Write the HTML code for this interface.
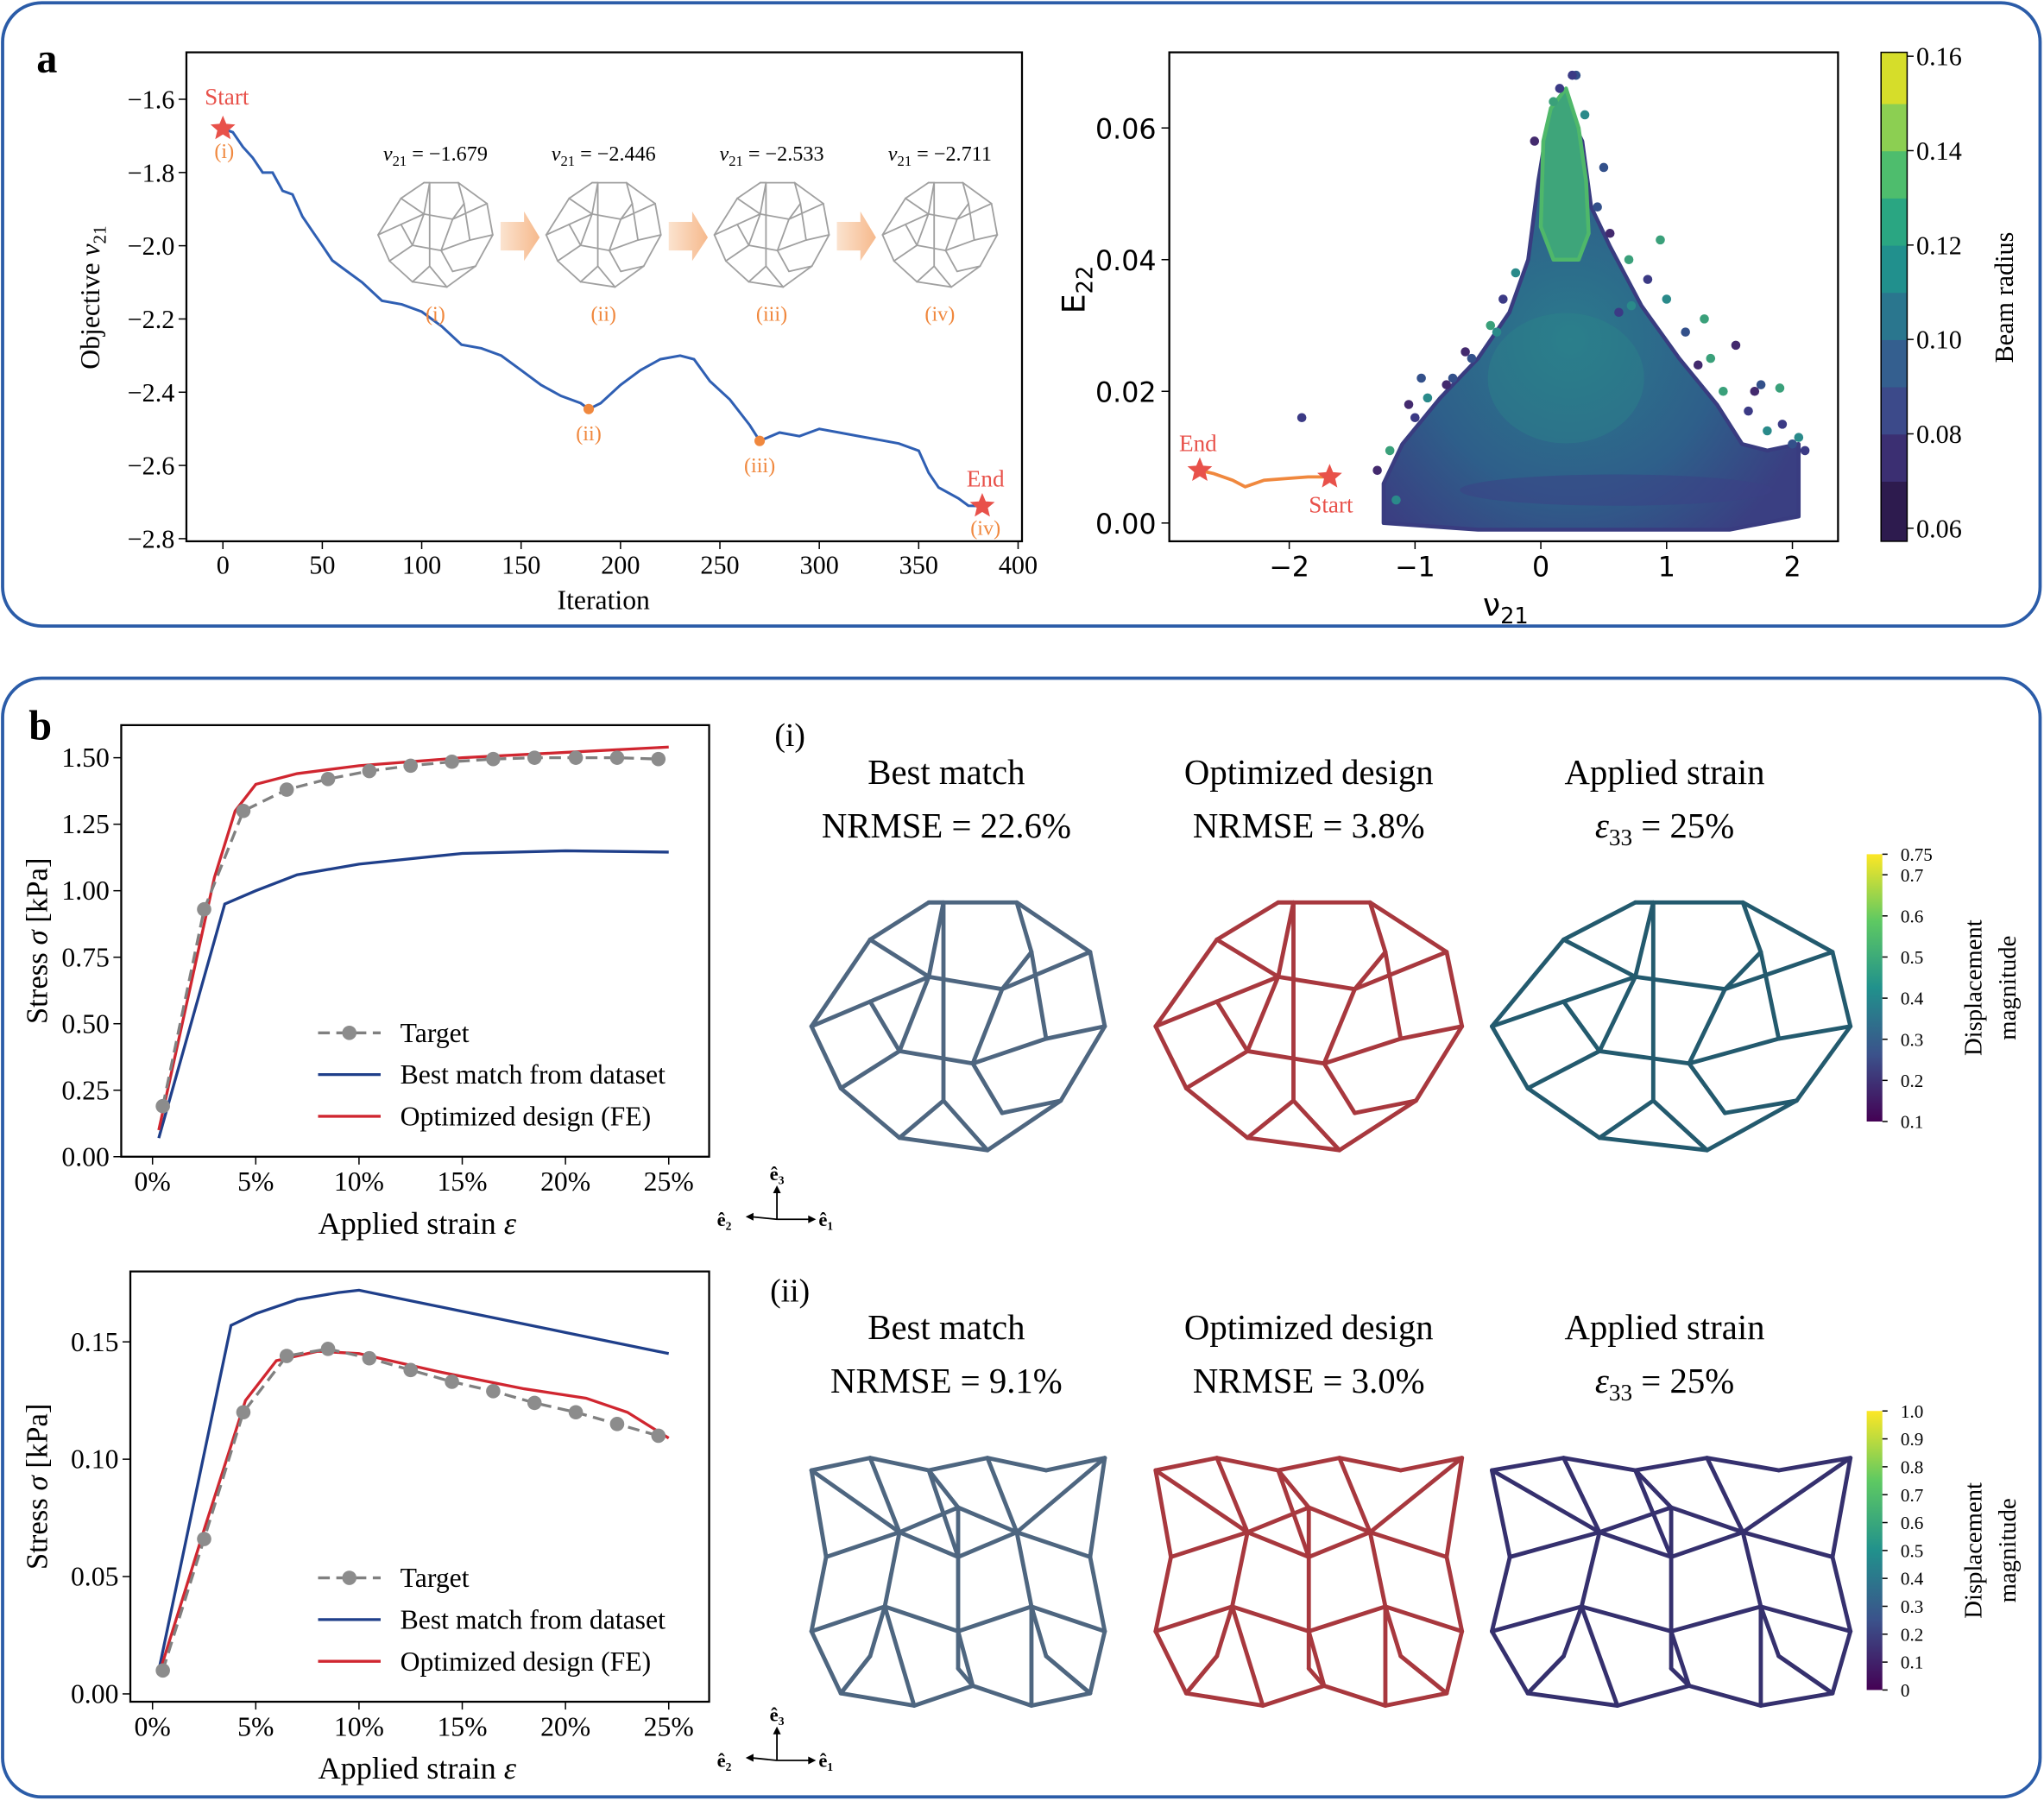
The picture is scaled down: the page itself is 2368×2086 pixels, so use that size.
<!DOCTYPE html>
<html><head><meta charset="utf-8">
<style>
html,body{margin:0;padding:0;background:#fff;}
svg{display:block;font-family:"Liberation Serif",serif;}
</style></head>
<body>
<svg id="fig" width="2368" height="2086" viewBox="0 0 1568 1381" xmlns="http://www.w3.org/2000/svg">
<defs>
<linearGradient id="viridis" x1="0" y1="1" x2="0" y2="0">
<stop offset="0" stop-color="#440154"/><stop offset="0.25" stop-color="#3b528b"/><stop offset="0.5" stop-color="#21918c"/><stop offset="0.75" stop-color="#5ec962"/><stop offset="1" stop-color="#fde725"/>
</linearGradient>
<linearGradient id="arrowgrad" x1="0" y1="0" x2="1" y2="0"><stop offset="0" stop-color="#fbe3cf"/><stop offset="1" stop-color="#f6b98c"/></linearGradient>
<radialGradient id="cloudgrad" cx="0.45" cy="0.55" r="0.6"><stop offset="0" stop-color="#2b7a8c"/><stop offset="0.6" stop-color="#2e5f8a"/><stop offset="1" stop-color="#3a3f82"/></radialGradient>
</defs>
<rect x="2" y="2" width="1563" height="478" rx="30" fill="none" stroke="#2b5ca8" stroke-width="2.5"/>
<rect x="2" y="520" width="1563" height="858" rx="30" fill="none" stroke="#2b5ca8" stroke-width="2.5"/>
<text x="28" y="55" font-size="32" font-weight="bold">a</text>
<text x="22" y="567" font-size="32" font-weight="bold">b</text>
<g id="layer"></g>
</svg>
<script>
// ---------- data: panel a left (objective history) ----------
const iterVals = [0,5,10,15,20,25,30,35,40,45,50,55,60,70,80,90,100,110,120,130,140,150,160,170,180,184,190,200,210,220,230,237,245,255,265,270,280,290,300,310,320,330,340,350,355,360,370,375,382];
const objVals  = [-1.68,-1.69,-1.73,-1.76,-1.80,-1.80,-1.85,-1.86,-1.92,-1.96,-2.00,-2.04,-2.06,-2.10,-2.15,-2.16,-2.18,-2.22,-2.27,-2.28,-2.30,-2.34,-2.38,-2.41,-2.43,-2.446,-2.43,-2.38,-2.34,-2.31,-2.30,-2.31,-2.37,-2.42,-2.49,-2.533,-2.51,-2.52,-2.50,-2.51,-2.52,-2.53,-2.54,-2.56,-2.62,-2.66,-2.69,-2.71,-2.711];
const objXTicks = [0,50,100,150,200,250,300,350,400];
const objYTicks = [-1.6,-1.8,-2.0,-2.2,-2.4,-2.6,-2.8];
const snapIter = [184,270];
const snapVal = [-2.446,-2.533];
const snapLabels = ["(ii)","(iii)"];
const thumbNu = ["-1.679","-2.446","-2.533","-2.711"];
const thumbLabels = ["(i)","(ii)","(iii)","(iv)"];
// ---------- data: panel a right (scatter) ----------
const scXTicks = [-2,-1,0,1,2];
const scYTicks = [0,0.02,0.04,0.06];
const cloudNu = [-1.25,-1.25,-1.1,-0.8,-0.5,-0.25,-0.1,-0.02,0.05,0.2,0.33,0.4,0.55,0.8,1.1,1.4,1.6,1.8,2.05,2.05,1.5,0.5,-0.5];
const cloudE  = [0,0.006,0.012,0.019,0.025,0.032,0.04,0.052,0.06,0.063,0.058,0.048,0.042,0.033,0.025,0.018,0.012,0.011,0.012,0.001,-0.001,-0.001,-0.001];
const greenNu = [0.0,0.02,0.08,0.2,0.3,0.36,0.38,0.3,0.1];
const greenE  = [0.045,0.058,0.063,0.066,0.06,0.052,0.044,0.04,0.04];
const outNu = [-1.9,-1.15,-0.95,-1.05,1.9,2.1,2.05,1.75,1.55,0.95,0.62,0.72,-0.55,-0.75,1.3,1.92,-0.35,0.28,-1.3,-1.2,-1.0,-0.9,-0.7,-0.6,-0.4,-0.3,-0.2,0.45,0.55,0.7,0.85,1.0,1.15,1.25,1.45,1.65,1.8,2.0,1.7,1.35,0.15,0.35,0.5,-0.05,0.1,0.25];
const outE  = [0.016,0.0035,0.022,0.018,0.0205,0.011,0.013,0.021,0.027,0.043,0.032,0.033,0.025,0.021,0.031,0.015,0.029,0.068,0.008,0.011,0.016,0.019,0.022,0.026,0.03,0.034,0.038,0.048,0.044,0.04,0.037,0.034,0.029,0.024,0.02,0.017,0.014,0.012,0.02,0.025,0.066,0.062,0.054,0.058,0.064,0.068];
const pathNu = [-2.711,-2.6,-2.45,-2.35,-2.2,-2.0,-1.85,-1.679];
const pathE  = [0.008,0.0075,0.0065,0.0055,0.0065,0.0068,0.007,0.007];
const cbTicks = [0.06,0.08,0.10,0.12,0.14,0.16];
// ---------- data: panel b curves ----------
const bXTicks = [0,5,10,15,20,25];
const top_tgtX = [0.5,2.5,4.4,6.5,8.5,10.5,12.5,14.5,16.5,18.5,20.5,22.5,24.5];
const top_tgtY = [0.19,0.93,1.30,1.38,1.42,1.45,1.47,1.485,1.495,1.5,1.5,1.5,1.495];
const top_bestX = [0.3,3.5,5,7,10,15,20,25];
const top_bestY = [0.07,0.95,1.00,1.06,1.10,1.14,1.15,1.145];
const top_optX = [0.3,3,4,5,7,10,15,20,25];
const top_optY = [0.10,1.05,1.30,1.40,1.44,1.47,1.50,1.52,1.54];
const topYTicks = [0,0.25,0.5,0.75,1.0,1.25,1.5];
const bot_tgtX = [0.5,2.5,4.4,6.5,8.5,10.5,12.5,14.5,16.5,18.5,20.5,22.5,24.5];
const bot_tgtY = [0.010,0.066,0.120,0.144,0.147,0.143,0.138,0.133,0.129,0.124,0.120,0.115,0.110];
const bot_bestX = [0.3,3.8,5,7,9,10,15,20,25];
const bot_bestY = [0.010,0.157,0.162,0.168,0.171,0.172,0.163,0.154,0.145];
const bot_optX = [0.3,2.5,4.5,6,8,10,14,18,21,23,25];
const bot_optY = [0.008,0.070,0.125,0.142,0.146,0.145,0.137,0.130,0.126,0.120,0.109];
const botYTicks = [0,0.05,0.10,0.15];

const NS="http://www.w3.org/2000/svg";
const L=document.getElementById('layer');
function el(tag,attrs,parent,text){const e=document.createElementNS(NS,tag);for(const k in attrs)e.setAttribute(k,attrs[k]);if(text!==undefined)e.textContent=text;(parent||L).appendChild(e);return e;}
function lin(d0,d1,p0,p1){return v=>p0+(v-d0)*(p1-p0)/(d1-d0);}
function fmtMinus(s){return s.replace('-','\u2212');}
function star(cx,cy,r){let p=[];for(let i=0;i<10;i++){const a=-Math.PI/2+i*Math.PI/5;const rr=i%2?r*0.45:r;p.push((cx+rr*Math.cos(a)).toFixed(1)+','+(cy+rr*Math.sin(a)).toFixed(1));}return p.join(' ');}

// generic lattice drawing (illustration, not data)
function lattice(parent,cx,cy,w,h,color,sw,variant){
 const g=el('g',{},parent);
 
 const P=variant===2?
 [[-.5,-.45],[-.3,-.5],[-.1,-.45],[.1,-.5],[.3,-.45],[.5,-.5],[-.45,-.1],[-.2,-.2],[0,-.1],[.2,-.2],[.45,-.1],[-.5,.2],[-.25,.1],[0,.2],[.25,.1],[.5,.2],[-.4,.45],[-.15,.5],[.05,.42],[.25,.5],[.45,.45],[-.3,.3],[.3,.3],[0,-.3],[0,.35]]
 :[[-.5,0],[-.3,-.35],[-.1,-.5],[.2,-.5],[.45,-.3],[.5,0],[.35,.3],[.1,.5],[-.2,.45],[-.4,.25],[-.1,-.2],[.15,-.15],[.05,.15],[-.2,.1],[.3,.05],[-.05,-.5],[-.05,.3],[.25,-.3],[-.3,-.1],[.15,.35]];
 const E=variant===2?
 [[0,1],[1,2],[2,3],[3,4],[4,5],[0,6],[6,7],[7,1],[7,8],[8,2],[8,9],[9,3],[9,10],[10,5],[6,11],[11,12],[12,7],[12,13],[13,8],[13,14],[14,9],[14,15],[15,10],[11,16],[16,17],[17,12],[17,18],[18,13],[18,19],[19,14],[19,20],[20,15],[21,12],[21,16],[22,14],[22,20],[23,7],[23,9],[24,13],[24,18],[0,7],[5,9],[16,21],[20,22],[23,8],[2,23]]
 :[[0,1],[1,2],[2,3],[3,4],[4,5],[5,6],[6,7],[7,8],[8,9],[9,0],[1,10],[10,11],[11,4],[10,13],[13,12],[12,11],[12,14],[14,5],[13,9],[15,10],[15,16],[16,7],[17,11],[17,3],[18,0],[18,10],[19,12],[19,6],[2,15],[14,17],[16,8],[18,13]];
 E.forEach(e=>{const a=P[e[0]],b=P[e[1]];el('line',{x1:cx+a[0]*w,y1:cy+a[1]*h,x2:cx+b[0]*w,y2:cy+b[1]*h,stroke:color,'stroke-width':sw,'stroke-linecap':'round'},g);});
 return g;
}

// ===== Panel a left =====
{
const x=lin(0,400,171,781), y=lin(-1.6,-2.8,76,413);
const g=el('g',{});

const fr=el('rect',{x:143,y:40,width:641,height:375,fill:'none',stroke:'#000','stroke-width':1.5},g);

objXTicks.forEach(t=>{el('line',{x1:x(t),x2:x(t),y1:415,y2:421,stroke:'#000'},g);const tx=el('text',{x:x(t),y:440,'font-size':20,'text-anchor':'middle'},g,String(t));});
objYTicks.forEach(t=>{el('line',{x1:137,x2:143,y1:y(t),y2:y(t),stroke:'#000'},g);const tx=el('text',{x:134,y:y(t)+7,'font-size':20,'text-anchor':'end'},g,fmtMinus(t.toFixed(1)));});
const xt=el('text',{x:463,y:467,'font-size':21,'text-anchor':'middle'},g,'Iteration');
const yt=el('text',{transform:'translate(76,228) rotate(-90)','font-size':21,'text-anchor':'middle'},g);yt.innerHTML='Objective <tspan font-style="italic">ν</tspan><tspan font-size="14" dy="5">21</tspan>';
let d='';iterVals.forEach((v,i)=>{d+=(i?'L':'M')+x(v).toFixed(1)+','+y(objVals[i]).toFixed(1);});
const ln=el('path',{d:d,fill:'none',stroke:'#2f5fb3','stroke-width':2},g);
snapIter.forEach((it,i)=>{const c=el('circle',{cx:x(it),cy:y(snapVal[i]),r:4,fill:'#f0883e'},g);el('text',{x:x(it),y:y(snapVal[i])+24,'font-size':16,fill:'#f0883e','text-anchor':'middle'},g,snapLabels[i]);});
const s1=el('polygon',{points:star(x(iterVals[0]),y(objVals[0]),10),fill:'#e8514a'},g);
el('text',{x:174,y:80,'font-size':18,fill:'#e8514a','text-anchor':'middle'},g,'Start');
el('text',{x:172,y:121,'font-size':16,fill:'#f0883e','text-anchor':'middle'},g,'(i)');
const li=iterVals.length-1;
const s2=el('polygon',{points:star(x(iterVals[li]),y(objVals[li]),10),fill:'#e8514a'},g);
el('text',{x:756,y:373,'font-size':18,fill:'#e8514a','text-anchor':'middle'},g,'End');
el('text',{x:756,y:410,'font-size':16,fill:'#f0883e','text-anchor':'middle'},g,'(iv)');
const cx0=[334,463,592,721];
cx0.forEach((cx,i)=>{
 const tt=el('text',{x:cx,y:123,'font-size':16,'text-anchor':'middle'},g);tt.innerHTML='<tspan font-style="italic">ν</tspan><tspan font-size="11" dy="4">21</tspan><tspan dy="-4"> = '+fmtMinus(thumbNu[i])+'</tspan>';
 
 lattice(g,cx,180,88,80,'#a0a0a0',1.2,0);
 el('text',{x:cx,y:246,'font-size':16,fill:'#f0883e','text-anchor':'middle'},g,thumbLabels[i]);
 if(i<3){const a=el('polygon',{points:`${cx+50},170 ${cx+68},170 ${cx+68},162 ${cx+80},182 ${cx+68},200 ${cx+68},192 ${cx+50},192`,fill:'url(#arrowgrad)'},g);}
});
}

// ===== Panel a right (scatter) =====
{
const x=lin(0,1,1182,1278.5), y=lin(0,0.06,401,98);
const g=el('g',{});
let p=cloudNu.map((v,i)=>x(v).toFixed(1)+','+y(cloudE[i]).toFixed(1)).join(' ');
const c=el('polygon',{points:p,fill:'url(#cloudgrad)',stroke:'#393c80','stroke-width':3,'stroke-linejoin':'round'},g);
el('ellipse',{cx:x(0.2),cy:y(0.022),rx:60,ry:50,fill:'#2a8a8a',opacity:0.35},g);
el('ellipse',{cx:x(0.6),cy:y(0.005),rx:120,ry:12,fill:'#3b3f85',opacity:0.5},g);
p=greenNu.map((v,i)=>x(v).toFixed(1)+','+y(greenE[i]).toFixed(1)).join(' ');
const gr=el('polygon',{points:p,fill:'#3ea57a',stroke:'#4fb86a','stroke-width':3,'stroke-linejoin':'round'},g);
const ocol=['#3b3a85','#2a8a8a','#33508a','#432a6e','#3aa07a'];
outNu.forEach((v,i)=>{const o=el('circle',{cx:x(v),cy:y(outE[i]),r:3.5,fill:ocol[i%5]},g);});
let d='';pathNu.forEach((v,i)=>{d+=(i?'L':'M')+x(v).toFixed(1)+','+y(pathE[i]).toFixed(1);});
const pl=el('path',{d:d,fill:'none',stroke:'#f0883e','stroke-width':2.5},g);
el('polygon',{points:star(x(pathNu[0]),y(pathE[0]),10),fill:'#e8514a'},g);
el('polygon',{points:star(x(pathNu[pathNu.length-1]),y(pathE[pathE.length-1]),10),fill:'#e8514a'},g);
el('text',{x:919,y:346,'font-size':18,fill:'#e8514a','text-anchor':'middle'},g,'End');
el('text',{x:1021,y:393,'font-size':18,fill:'#e8514a','text-anchor':'middle'},g,'Start');
const fr=el('rect',{x:897,y:40,width:513,height:375,fill:'none',stroke:'#000','stroke-width':1.5},g);
scXTicks.forEach(t=>{el('line',{x1:x(t),x2:x(t),y1:415,y2:421,stroke:'#000'},g);const tx=el('text',{x:x(t),y:442,'font-size':21,'font-family':'"DejaVu Sans",sans-serif','text-anchor':'middle'},g,fmtMinus(String(t)));});
scYTicks.forEach(t=>{el('line',{x1:891,x2:897,y1:y(t),y2:y(t),stroke:'#000'},g);const tx=el('text',{x:887,y:y(t)+8,'font-size':21,'font-family':'"DejaVu Sans",sans-serif','text-anchor':'end'},g,t.toFixed(2));});
const xt=el('text',{x:1155,y:472,'font-size':24,'font-family':'"DejaVu Sans",sans-serif','text-anchor':'middle'},g);xt.innerHTML='ν<tspan font-size="17" dy="6">21</tspan>';
const yt=el('text',{transform:'translate(832,222) rotate(-90)','font-size':24,'font-family':'"DejaVu Sans",sans-serif','text-anchor':'middle'},g);yt.innerHTML='E<tspan font-size="17" dy="6">22</tspan>';
const cy=lin(0.06,0.16,405,43);
const cols=['#2d1b4e','#3b2f72','#3c4a8a','#345f8f','#2a768e','#21908d','#2aa682','#4ebd6d','#8ccf52','#d6dd2a'];
for(let i=0;i<10;i++){const top=i===9?40:cy(0.06+(i+1)*0.01);const bot=i===0?415:cy(0.06+i*0.01)+0.5;el('rect',{x:1443,y:top,width:20,height:bot-top,fill:cols[i]},g);}
const cb=el('rect',{x:1443,y:40,width:20,height:375,fill:'none',stroke:'#000'},g);
cbTicks.forEach(t=>{el('line',{x1:1463,x2:1468,y1:cy(t),y2:cy(t),stroke:'#000'},g);el('text',{x:1470,y:cy(t)+7,'font-size':20},g,t.toFixed(2));});
const ct=el('text',{transform:'translate(1544,228) rotate(-90)','font-size':20,'text-anchor':'middle'},g,'Beam radius');
}

// ===== Panel b charts =====
function stressChart(name,top,bottom,left,y0px,yTopVal,yTopPx,yticks,dec,tX,tY,bX,bY,oX,oY,legY){
 const x=lin(0,25,117,513), y=lin(0,yTopVal,y0px,yTopPx);
 const g=el('g',{});
 const fr=el('rect',{x:left,y:top,width:544-left,height:bottom-top,fill:'none',stroke:'#000','stroke-width':1.5},g);
 bXTicks.forEach(t=>{el('line',{x1:x(t),x2:x(t),y1:bottom,y2:bottom+6,stroke:'#000'},g);const tx=el('text',{x:x(t),y:bottom+26,'font-size':21,'text-anchor':'middle'},g,t+'%');});
 yticks.forEach(t=>{el('line',{x1:left-6,x2:left,y1:y(t),y2:y(t),stroke:'#000'},g);const tx=el('text',{x:left-9,y:y(t)+7,'font-size':21,'text-anchor':'end'},g,t.toFixed(dec));});
 const xt=el('text',{x:320,y:bottom+59,'font-size':24,'text-anchor':'middle'},g);xt.innerHTML='Applied strain <tspan font-style="italic">ε</tspan>';
 const yt=el('text',{transform:`translate(36,${(top+bottom)/2}) rotate(-90)`,'font-size':23,'text-anchor':'middle'},g);yt.innerHTML='Stress <tspan font-style="italic">σ</tspan> [kPa]';
 const path=(X,Y)=>X.map((v,i)=>(i?'L':'M')+x(v).toFixed(1)+','+y(Y[i]).toFixed(1)).join('');
 const b=el('path',{d:path(bX,bY),fill:'none',stroke:'#1f3f8a','stroke-width':2.2},g);
 const o=el('path',{d:path(oX,oY),fill:'none',stroke:'#d02630','stroke-width':2.2},g);
 const t=el('path',{d:path(tX,tY),fill:'none',stroke:'#808080','stroke-width':2.2,'stroke-dasharray':'9,5'},g);
 tX.forEach((v,i)=>{const c=el('circle',{cx:x(v),cy:y(tY[i]),r:5.5,fill:'#8c8c8c'},g);});
 const lg=el('g',{},g);
 el('line',{x1:244,x2:292,y1:legY,y2:legY,stroke:'#808080','stroke-width':2.2,'stroke-dasharray':'9,5'},lg);el('circle',{cx:268,cy:legY,r:5.5,fill:'#8c8c8c'},lg);
 el('text',{x:307,y:legY+7,'font-size':21},lg,'Target');
 el('line',{x1:244,x2:292,y1:legY+32,y2:legY+32,stroke:'#1f3f8a','stroke-width':2.2},lg);el('text',{x:307,y:legY+39,'font-size':21},lg,'Best match from dataset');
 el('line',{x1:244,x2:292,y1:legY+64,y2:legY+64,stroke:'#d02630','stroke-width':2.2},lg);el('text',{x:307,y:legY+71,'font-size':21},lg,'Optimized design (FE)');
}
stressChart('stress-chart-i',556,887,93,887,1.5,581,topYTicks,2,top_tgtX,top_tgtY,top_bestX,top_bestY,top_optX,top_optY,792);
stressChart('stress-chart-ii',975,1305,100,1299,0.15,1029,botYTicks,2,bot_tgtX,bot_tgtY,bot_bestX,bot_bestY,bot_optX,bot_optY,1210);

function triad(cx,cy){const g=el('g',{});
 el('line',{x1:cx,y1:cy,x2:cx,y2:cy-22,stroke:'#000','stroke-width':1.2},g);el('polygon',{points:`${cx-3},${cy-20} ${cx+3},${cy-20} ${cx},${cy-26}`},g);
 el('line',{x1:cx,y1:cy,x2:cx+26,y2:cy,stroke:'#000','stroke-width':1.2},g);el('polygon',{points:`${cx+24},${cy-3} ${cx+24},${cy+3} ${cx+30},${cy}`},g);
 el('line',{x1:cx,y1:cy,x2:cx-20,y2:cy-2,stroke:'#000','stroke-width':1.2},g);el('polygon',{points:`${cx-18},${cy-5} ${cx-18},${cy+1} ${cx-24},${cy-2}`},g);
 el('text',{x:cx,y:cy-30,'font-size':15,'font-weight':'bold','text-anchor':'middle'},g,'ê₃');
 el('text',{x:cx+32,y:cy+5,'font-size':15,'font-weight':'bold'},g,'ê₁');
 el('text',{x:cx-46,y:cy+5,'font-size':15,'font-weight':'bold'},g,'ê₂');}
triad(596,935);triad(596,1350);

function row(y0,tag,nr1,nr2,variant,cbTop,cbBot,cbVals,cbMax,strainCol){
 el('text',{x:606,y:y0,'font-size':25,'text-anchor':'middle'},L,tag);
 const cols=[726,1004,1277];
 const t1=['Best match','Optimized design','Applied strain'];
 cols.forEach((cx,i)=>{const a=el('text',{x:cx,y:y0+29,'font-size':27,'text-anchor':'middle'},L,t1[i]);});
 el('text',{x:726,y:y0+70,'font-size':27,'text-anchor':'middle'},L,'NRMSE = '+nr1);
 el('text',{x:1004,y:y0+70,'font-size':27,'text-anchor':'middle'},L,'NRMSE = '+nr2);
 const st=el('text',{x:1277,y:y0+70,'font-size':27,'text-anchor':'middle'},L);st.innerHTML='<tspan font-style="italic">ε</tspan><tspan font-size="18" dy="6">33</tspan><tspan dy="-6"> = 25%</tspan>';
 const ly=y0+215;
 lattice(L,735,ly,225,190,'#4e6680',3.2,variant);
 lattice(L,1004,ly,235,190,'#a8383e',3.2,variant);
 lattice(L,1282,ly,275,190,strainCol,3.2,variant);
 const cb=el('rect',{x:1432,y:cbTop,width:12,height:cbBot-cbTop,fill:'url(#viridis)'},L);
 const cy=lin(Number(cbVals[0]),cbMax,cbBot,cbTop);
 cbVals.forEach(v=>{el('line',{x1:1444,x2:1448,y1:cy(Number(v)),y2:cy(Number(v)),stroke:'#000'},L);el('text',{x:1458,y:cy(Number(v))+5,'font-size':14},L,String(v));});
 const t=el('text',{transform:`translate(1520,${(cbTop+cbBot)/2}) rotate(-90)`,'font-size':19,'text-anchor':'middle'},L);t.innerHTML='<tspan x="0">Displacement</tspan><tspan x="0" dy="26">magnitude</tspan>';
 
}
row(572,'(i)','22.6%','3.8%',0,655,860,[0.1,0.2,0.3,0.4,0.5,0.6,0.7,0.75],0.75,'#235a6e');
row(998,'(ii)','9.1%','3.0%',2,1082,1296,[0,0.1,0.2,0.3,0.4,0.5,0.6,0.7,0.8,0.9,'1.0'],1.0,'#35306e');
</script>
</body></html>
